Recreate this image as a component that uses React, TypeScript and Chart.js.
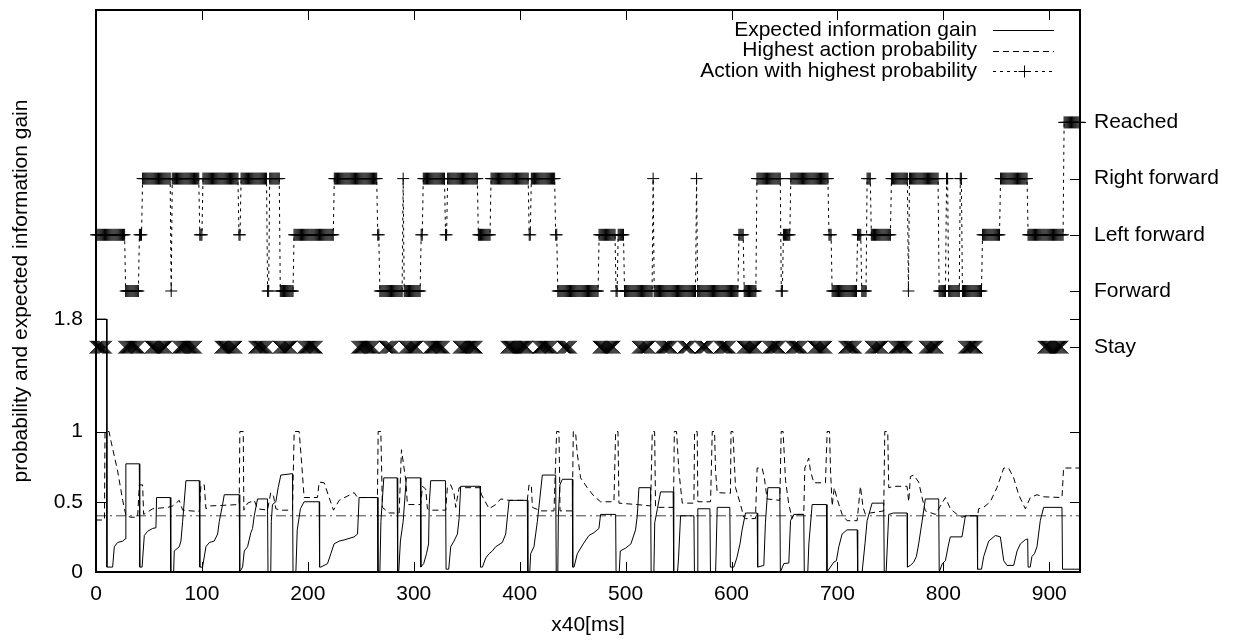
import { useEffect, useRef } from "react";
import { Chart, registerables } from "chart.js";

Chart.register(...registerables);

const FONT_FAMILY = '"Liberation Sans", Arial, Helvetica, sans-serif';
const FONT_SIZE = 21;

const X_MAX = 929;
const xTicks = [0, 100, 200, 300, 400, 500, 600, 700, 800, 900];
const leftTicks = [0, 0.5, 1, 1.8];
const actionNames = ["Stay", "Forward", "Left forward", "Right forward", "Reached"];
const actionValues = [1.6, 2.0, 2.4, 2.8, 3.2];
const thresholdValue = 0.4;
const seriesLabels = [
  "Expected information gain",
  "Highest action probability",
  "Action with highest probability",
];

// Expected information gain: [x, value]
const infoGain: [number, number][] = [
  [0, 1.8], [10, 1.8], [10.3, 0.035], [15.7, 0.035], [17.3, 0.18], [20.4, 0.21], [25.2, 0.22], [27.6, 0.235], [28.2, 0.77], [40.9, 0.77],
  [41.3, 0.035], [43.5, 0.035], [45.6, 0.26], [48.7, 0.29], [53.5, 0.31], [56.6, 0.315], [57.2, 0.53], [70.1, 0.53], [70.6, 0], [73.3, 0],
  [73.9, 0.15], [78.6, 0.18], [80.2, 0.22], [81.8, 0.36], [84.9, 0.65], [97.5, 0.65], [98, 0.035], [100.6, 0.035], [103.8, 0.18], [107, 0.21],
  [111.6, 0.22], [114.8, 0.27], [116.4, 0.36], [119.5, 0.48], [121.1, 0.55], [135.2, 0.55], [135.7, 0], [138.4, 0.035], [140, 0.15], [143.1, 0.18],
  [146.2, 0.28], [147.8, 0.31], [149.4, 0.4], [152.5, 0.52], [161.9, 0.52], [162.4, 0], [165, 0], [165.5, 0.36], [166.6, 0.48], [169.8, 0.5],
  [172, 0.6], [174.5, 0.69], [185.5, 0.7], [186, 0], [188.7, 0], [190, 0.3], [193, 0.45], [196.5, 0.5], [210.7, 0.5], [211.1, 0.035],
  [212.3, 0.035], [218.6, 0.06], [221.7, 0.13], [224.8, 0.2], [229.6, 0.22], [235, 0.23], [243.7, 0.25], [246.9, 0.27], [248.4, 0.53], [265.7, 0.53],
  [266.2, 0], [268, 0], [269, 0.36], [271.7, 0.67], [284.3, 0.67], [284.8, 0], [285.8, 0], [287.4, 0.22], [290, 0.36], [293, 0.67],
  [306.3, 0.67], [306.7, 0.035], [309.4, 0.06], [312, 0.13], [314, 0.2], [314.6, 0.48], [316, 0.65], [330, 0.65], [330.5, 0.02], [333, 0.02],
  [334.9, 0.18], [338, 0.22], [341.2, 0.27], [342.8, 0.38], [344.3, 0.61], [362.6, 0.61], [363, 0.035], [364.8, 0.035], [368, 0.1], [371.1, 0.13],
  [374.2, 0.15], [377.4, 0.18], [383.6, 0.21], [386.8, 0.27], [390, 0.51], [407.2, 0.51], [407.7, 0], [409.5, 0], [410.4, 0.13], [413.5, 0.18],
  [416.7, 0.36], [421.4, 0.69], [434, 0.69], [434.5, 0], [436, 0], [436.5, 0.4], [438, 0.62], [440.3, 0.66], [449.7, 0.66], [450.1, 0.035],
  [451.3, 0.035], [454.4, 0.13], [460, 0.2], [465.4, 0.26], [470.1, 0.28], [474.8, 0.31], [476.4, 0.41], [490.6, 0.41], [491, 0], [494, 0],
  [495, 0.15], [500, 0.17], [505, 0.2], [509.4, 0.3], [511, 0.4], [512.6, 0.6], [523.6, 0.6], [524.1, 0], [526.7, 0], [527.5, 0.35],
  [530, 0.45], [533, 0.57], [544.9, 0.57], [545.4, 0], [549, 0], [550, 0.1], [551.9, 0.4], [564.5, 0.4], [565, 0], [567.5, 0],
  [568.2, 0.45], [579.6, 0.45], [580.1, 0], [585, 0], [586.5, 0.46], [598.4, 0.46], [598.9, 0.035], [602.2, 0.035], [605, 0.1], [608, 0.2],
  [610, 0.3], [613.2, 0.42], [624.2, 0.42], [624.7, 0.035], [630.5, 0.047], [632, 0.35], [634.3, 0.6], [645.6, 0.6], [646.1, 0], [649.4, 0.06],
  [654.1, 0.064], [655.7, 0.365], [658.8, 0.41], [668.2, 0.41], [668.7, 0], [672, 0], [673, 0.2], [676.1, 0.48], [689.6, 0.48], [690.1, 0],
  [693.4, 0.035], [696.5, 0.07], [699, 0.08], [701.3, 0.18], [704.4, 0.27], [709.1, 0.3], [718.6, 0.3], [719.1, 0], [723.3, 0], [726, 0.2],
  [728, 0.365], [732.7, 0.49], [743.7, 0.49], [744.2, 0], [746, 0], [748.4, 0.41], [753.1, 0.42], [765.7, 0.42], [766.1, 0.035], [768.9, 0.047],
  [772, 0.07], [774.5, 0.11], [776.7, 0.2], [780, 0.365], [783, 0.52], [795.6, 0.52], [796.1, 0], [799, 0.06], [801.9, 0.08], [805, 0.2],
  [806.6, 0.25], [817.6, 0.25], [820.8, 0.4], [831.8, 0.4], [832.3, 0.02], [836, 0.02], [838.1, 0.11], [842.8, 0.22], [849.1, 0.26], [853.8, 0.25],
  [857, 0.08], [860.1, 0.047], [866.4, 0.047], [869.6, 0.15], [872.7, 0.2], [877.4, 0.23], [879.6, 0.235], [880, 0.035], [882, 0.035], [883.6, 0.11],
  [886, 0.13], [888.4, 0.18], [891.5, 0.365], [894.7, 0.46], [912, 0.46], [912.5, 0.02], [929, 0.02],
];

// Highest action probability: [x, value]
const highestProb: [number, number][] = [
  [0, 0.37], [8, 0.37], [8.5, 1.0], [12.3, 1.0], [14.2, 0.93], [20.4, 0.72], [25.2, 0.51], [28.3, 0.4], [33, 0.39], [39.3, 0.39],
  [40.9, 0.62], [44, 0.62], [45, 0.41], [53.5, 0.45], [67.6, 0.46], [72.3, 0.47], [75.5, 0.49], [78.6, 0.51], [81.8, 0.44], [97.5, 0.43],
  [99.1, 0.62], [102.2, 0.62], [103.8, 0.45], [107, 0.47], [135.2, 0.48], [135.8, 1.0], [139, 1.0], [139.6, 0.44], [143.1, 0.49], [149.4, 0.51],
  [152.5, 0.45], [161.9, 0.44], [165, 0.565], [167.6, 0.54], [169.8, 0.45], [174.5, 0.44], [185.5, 0.44], [187.1, 1.0], [191.8, 1.0], [194, 0.79],
  [196.5, 0.53], [209.1, 0.53], [210.7, 0.64], [215.4, 0.635], [219.2, 0.55], [224.2, 0.44], [229.6, 0.51], [243.7, 0.565], [246.9, 0.53], [265.7, 0.53],
  [266.4, 1.0], [268.9, 1.0], [270.4, 0.46], [276.7, 0.42], [286.2, 0.42], [288.4, 0.87], [292.5, 0.65], [294, 0.48], [306.6, 0.48], [308.2, 0.61],
  [311.3, 0.59], [312.9, 0.45], [316, 0.44], [330.2, 0.44], [331.8, 0.61], [334.9, 0.62], [338, 0.56], [339.6, 0.46], [342.8, 0.6], [362.6, 0.6],
  [364, 0.55], [371.1, 0.45], [377.4, 0.48], [382.1, 0.52], [390, 0.51], [407.2, 0.51], [408.8, 0.62], [411, 0.62], [412, 0.46], [419.8, 0.435],
  [432.4, 0.435], [434.9, 1.0], [437.1, 1.0], [438.1, 0.435], [449.7, 0.435], [450.6, 1.0], [452.8, 0.99], [454.4, 0.84], [457.5, 0.67], [463.8, 0.6],
  [470.1, 0.54], [476.4, 0.5], [489, 0.5], [490.6, 1.0], [492.8, 1.0], [493.7, 0.49], [511, 0.48], [523.6, 0.47], [525.2, 1.0], [527.4, 1.0],
  [528.3, 0.46], [545.2, 0.46], [546, 1.0], [548.1, 1.0], [550.3, 0.72], [553.5, 0.49], [564.5, 0.49], [565.1, 1.0], [567.6, 1.0], [568.2, 0.5],
  [580.2, 0.5], [581.8, 1.0], [584, 1.0], [584.9, 0.72], [586.5, 0.565], [599, 0.56], [599.5, 1.0], [601.3, 1.0], [603.8, 0.6], [608.5, 0.48],
  [611.6, 0.39], [613.2, 0.38], [622.6, 0.38], [624.2, 0.74], [628.9, 0.74], [631, 0.67], [633.6, 0.52], [645.6, 0.51], [646.9, 1.0], [648.7, 1.0],
  [651, 0.65], [654.1, 0.48], [657.2, 0.38], [658.8, 0.41], [668.2, 0.41], [669.2, 0.74], [672.9, 0.81], [674.5, 0.72], [677.7, 0.635], [688.7, 0.635],
  [690.3, 1.0], [692.5, 1.0], [693.5, 0.72], [695, 0.47], [697, 0.6], [699.7, 0.52], [704.4, 0.41], [709.1, 0.365], [718.6, 0.365], [721.7, 0.61],
  [724.2, 0.46], [726.4, 0.41], [731.1, 0.42], [743.7, 0.435], [744.7, 1.0], [747.5, 1.0], [748.4, 0.6], [753.1, 0.61], [765.7, 0.61], [767.3, 0.5],
  [768.9, 0.68], [772, 0.69], [776.7, 0.64], [779.9, 0.53], [783, 0.435], [792.5, 0.41], [797.2, 0.47], [801.9, 0.53], [806.6, 0.45], [812.9, 0.41],
  [817.6, 0.39], [822.3, 0.4], [832.4, 0.4], [833.3, 0.45], [838, 0.46], [844.3, 0.5], [850.6, 0.6], [857, 0.74], [861.6, 0.74], [866.4, 0.67],
  [871.1, 0.55], [877.4, 0.45], [882.1, 0.53], [888.4, 0.55], [895, 0.535], [912, 0.53], [913.5, 0.74], [929, 0.74],
];

// Action with highest probability: step where each action run starts, and the action index (into actionNames)
const actionStarts = [
  0, 28, 41, 44, 71, 72, 98, 101, 135, 137,
  162, 164, 174, 187, 225, 266, 268, 290, 291, 307,
  309, 330, 332, 361, 373, 409, 411, 434, 436, 475,
  491, 493, 499, 526, 527, 567, 568, 607, 612, 624,
  647, 649, 656, 692, 695, 719, 723, 728, 732, 751,
  767, 768, 796, 803, 805, 816, 818, 837, 854, 880,
  914,
];
const actionCodes = [
  2, 1, 2, 3, 1, 3, 2, 3, 2, 3,
  1, 3, 1, 2, 3, 2, 1, 3, 1, 2,
  3, 2, 3, 2, 3, 2, 3, 2, 1, 2,
  1, 2, 1, 3, 1, 3, 1, 2, 1, 3,
  1, 2, 3, 2, 1, 2, 1, 3, 2, 3,
  1, 3, 1, 3, 1, 3, 1, 2, 3, 2,
  4,
];

// Steps marked at the "Stay" level: [first step, last step]
const stayRuns: [number, number][] = [
  [0, 9], [27, 40], [52, 66], [78, 94], [118, 132], [150, 161], [173, 184], [196, 208],
  [247, 262], [273, 280], [292, 303], [315, 328], [343, 359], [388, 407], [418, 430], [441, 448],
  [475, 489], [512, 522], [534, 543], [555, 560], [571, 577], [589, 598], [611, 623], [635, 645],
  [657, 666], [678, 689], [707, 717], [732, 742], [754, 765], [783, 794], [820, 831], [895, 912],
];

function buildActionPoints() {
  const pts: { x: number; y: number }[] = [];
  for (let i = 0; i < actionStarts.length; i++) {
    const s = actionStarts[i];
    const e = i + 1 < actionStarts.length ? actionStarts[i + 1] - 1 : X_MAX;
    for (let x = s; x <= e; x++) pts.push({ x, y: actionValues[actionCodes[i]] });
  }
  return pts;
}

function buildStayPoints() {
  const pts: { x: number; y: number }[] = [];
  stayRuns.forEach(([s, e]) => {
    for (let x = s; x <= e; x++) pts.push({ x, y: actionValues[0] });
  });
  return pts;
}

const font = { family: FONT_FAMILY, size: FONT_SIZE };

const framePlugin = {
  id: "gnuplotFrame",
  afterDraw(chart: any) {
    const { ctx, chartArea: a, scales } = chart;
    const xs = scales.x;
    const ys = scales.y;
    const T = 10;
    ctx.save();
    ctx.strokeStyle = "#000";
    ctx.lineWidth = 1;
    ctx.setLineDash([]);
    ctx.beginPath();
    xTicks.forEach((v) => {
      const p = Math.round(xs.getPixelForValue(v)) + 0.5;
      ctx.moveTo(p, a.bottom);
      ctx.lineTo(p, a.bottom - T);
      ctx.moveTo(p, a.top);
      ctx.lineTo(p, a.top + T);
    });
    leftTicks.forEach((v) => {
      const p = Math.round(ys.getPixelForValue(v)) + 0.5;
      ctx.moveTo(a.left, p);
      ctx.lineTo(a.left + T, p);
      ctx.moveTo(a.right, p);
      ctx.lineTo(a.right - T, p);
    });
    actionValues.forEach((v) => {
      const p = Math.round(ys.getPixelForValue(v)) + 0.5;
      ctx.moveTo(a.right, p);
      ctx.lineTo(a.right - T, p);
    });
    ctx.stroke();
    ctx.lineWidth = 2;
    ctx.strokeRect(a.left, a.top, a.right - a.left, a.bottom - a.top);

    // key (gnuplot style: text right-aligned, sample to its right)
    const rowsY = [30, 50.5, 71];
    const textRight = 977;
    const s0 = 993;
    const s1 = 1054;
    ctx.font = `${FONT_SIZE}px ${FONT_FAMILY}`;
    ctx.textAlign = "right";
    ctx.textBaseline = "middle";
    ctx.fillStyle = "#000";
    ctx.lineWidth = 1;
    for (let i = 0; i < 3; i++) {
      const ds = chart.data.datasets[i];
      const yy = rowsY[i];
      ctx.fillText(ds.label, textRight, yy);
      ctx.setLineDash(ds.borderDash || []);
      ctx.beginPath();
      ctx.moveTo(s0, Math.round(yy) + 0.5);
      ctx.lineTo(s1, Math.round(yy) + 0.5);
      ctx.stroke();
      if (ds.pointStyle === "cross") {
        ctx.setLineDash([]);
        const cx = Math.round((s0 + s1) / 2) + 0.5;
        const r = ds.pointRadius;
        ctx.beginPath();
        ctx.moveTo(cx - r, Math.round(yy) + 0.5);
        ctx.lineTo(cx + r, Math.round(yy) + 0.5);
        ctx.moveTo(cx, Math.round(yy) + 0.5 - r);
        ctx.lineTo(cx, Math.round(yy) + 0.5 + r);
        ctx.stroke();
      }
    }
    ctx.restore();
  },
};

export default function App() {
  const ref = useRef<HTMLCanvasElement>(null);

  useEffect(() => {
    const canvas = ref.current;
    if (!canvas) return;
    const chart = new Chart(canvas, {
      type: "scatter",
      data: {
        datasets: [
          {
            label: seriesLabels[0],
            data: infoGain.map(([x, y]) => ({ x, y })),
            showLine: true,
            borderColor: "#000",
            borderWidth: 1,
            pointRadius: 0,
            borderDash: [],
          },
          {
            label: seriesLabels[1],
            data: highestProb.map(([x, y]) => ({ x, y })),
            showLine: true,
            borderColor: "#000",
            borderWidth: 1,
            pointRadius: 0,
            borderDash: [6, 4],
          },
          {
            label: seriesLabels[2],
            data: buildActionPoints(),
            showLine: true,
            borderColor: "#000",
            borderWidth: 1,
            borderDash: [3, 4],
            pointStyle: "cross",
            pointRadius: 6,
            pointBorderWidth: 1,
            pointBorderColor: "#000",
            clip: false,
          },
          {
            label: "Stay",
            data: buildStayPoints(),
            showLine: false,
            pointStyle: "crossRot",
            pointRadius: 9,
            pointBorderWidth: 1,
            pointBorderColor: "#000",
            borderColor: "#000",
            clip: false,
          },
          {
            label: "threshold",
            data: [
              { x: 0, y: thresholdValue },
              { x: X_MAX, y: thresholdValue },
            ],
            showLine: true,
            borderColor: "#444",
            borderWidth: 1,
            pointRadius: 0,
            borderDash: [10, 4, 2, 4],
          },
        ],
      } as any,
      options: {
        responsive: false,
        animation: false,
        events: [],
        layout: { padding: { top: 7, left: 0, right: 0, bottom: 0 } },
        plugins: {
          legend: { display: false },
          tooltip: { enabled: false },
        },
        scales: {
          x: {
            type: "linear",
            position: "bottom",
            min: 0,
            max: X_MAX,
            grid: { display: false },
            border: { display: false },
            afterBuildTicks: (s: any) => {
              s.ticks = xTicks.map((v) => ({ value: v }));
            },
            ticks: {
              font,
              color: "#000",
              padding: 2,
              autoSkip: false,
              maxRotation: 0,
              callback: (v: any) => String(v),
            },
            title: { display: true, text: "x40[ms]", font, color: "#000", padding: { top: 0, bottom: 4 } },
            afterFit: (s: any) => {
              s.height = 70;
              s.paddingLeft = 0;
              s.paddingRight = 0;
            },
          },
          y: {
            type: "linear",
            position: "left",
            min: 0,
            max: 4,
            grid: { display: false },
            border: { display: false },
            afterBuildTicks: (s: any) => {
              s.ticks = leftTicks.map((v) => ({ value: v }));
            },
            ticks: { font, color: "#000", padding: 5, autoSkip: false, callback: (v: any) => String(v) },
            title: {
              display: true,
              text: "probability and expected information gain",
              font,
              color: "#000",
              padding: { top: 9, bottom: 0 },
            },
            afterFit: (s: any) => {
              s.width = 96;
              s.paddingTop = 0;
              s.paddingBottom = 0;
            },
          },
          y2: {
            type: "linear",
            position: "right",
            min: 0,
            max: 4,
            grid: { display: false },
            border: { display: false },
            afterBuildTicks: (s: any) => {
              s.ticks = actionValues.map((v) => ({ value: v }));
            },
            ticks: {
              font,
              color: "#000",
              padding: 6,
              autoSkip: false,
              callback: (v: any) => {
                const i = actionValues.findIndex((a) => Math.abs(a - Number(v)) < 1e-6);
                return i >= 0 ? actionNames[i] : "";
              },
            },
            afterFit: (s: any) => {
              s.width = 156;
              s.paddingTop = 0;
              s.paddingBottom = 0;
            },
          },
        },
      } as any,
      plugins: [framePlugin],
    });
    return () => chart.destroy();
  }, []);

  return (
    <div style={{ position: "absolute", left: 0, top: 0, width: 1236, height: 642, background: "#fff" }}>
      <canvas ref={ref} width={1236} height={642} style={{ display: "block" }} />
    </div>
  );
}
